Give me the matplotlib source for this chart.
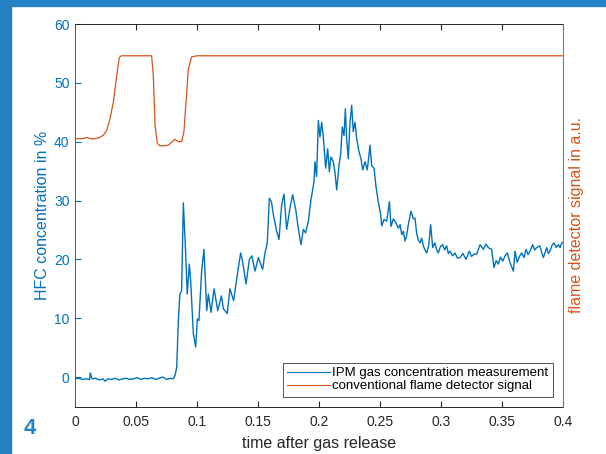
import matplotlib
matplotlib.use("Agg")
import matplotlib.pyplot as plt
from matplotlib.patches import Rectangle
from matplotlib.lines import Line2D

plt.rcParams['font.family'] = ['Liberation Sans', 'DejaVu Sans']

# IPM gas concentration (time in s, value in %)
t_ipm = [0.000, 0.003, 0.006, 0.009, 0.012, 0.0125, 0.014, 0.017, 0.020, 0.023,
         0.0246, 0.027, 0.030, 0.033, 0.036, 0.039, 0.042, 0.045, 0.048, 0.051,
         0.054, 0.057, 0.060, 0.063, 0.066, 0.069, 0.072, 0.075, 0.078, 0.0805,
         0.082, 0.0834, 0.0847, 0.086, 0.0874, 0.0888, 0.0905, 0.092, 0.0937, 0.0948,
         0.097, 0.0989, 0.1003, 0.1016, 0.1038, 0.1057, 0.108, 0.1093, 0.1115, 0.114,
         0.117, 0.120, 0.1216, 0.1248, 0.127, 0.130, 0.1339, 0.1358, 0.1375, 0.1402,
         0.1429, 0.145, 0.1475, 0.1503, 0.1538, 0.1557, 0.1576, 0.1593, 0.161, 0.1626,
         0.1653, 0.1672, 0.1694, 0.1713, 0.1735, 0.1762, 0.1784, 0.181, 0.183, 0.1852,
         0.1872, 0.189, 0.1913, 0.1934, 0.1959, 0.1967, 0.198, 0.1995, 0.2008, 0.2022,
         0.2035, 0.2055, 0.2071, 0.2085, 0.2098, 0.2117, 0.213, 0.2145, 0.2164, 0.2178,
         0.2191, 0.2205, 0.2216, 0.2227, 0.224, 0.2254, 0.2268, 0.2281, 0.2295, 0.2309,
         0.2328, 0.2344, 0.2358, 0.2377, 0.2396, 0.2418, 0.2432, 0.2451, 0.2467, 0.2486,
         0.2506, 0.2514, 0.2533, 0.2555, 0.2577, 0.2590, 0.261, 0.2631, 0.265, 0.2665,
         0.2678, 0.2692, 0.2705, 0.2718, 0.2732, 0.2754, 0.2773, 0.2787, 0.28, 0.2814,
         0.2828, 0.2842, 0.2855, 0.2869, 0.2883, 0.2900, 0.2915, 0.2932, 0.295, 0.2964,
         0.2978, 0.2996, 0.3014, 0.3030, 0.3046, 0.3060, 0.3074, 0.3095, 0.3115, 0.3135,
         0.3156, 0.3180, 0.3205, 0.3232, 0.3250, 0.327, 0.3293, 0.332, 0.3347, 0.3368,
         0.3388, 0.3415, 0.3434, 0.3452, 0.347, 0.3488, 0.3506, 0.3525, 0.3543, 0.3565,
         0.3593, 0.3607, 0.3625, 0.3643, 0.3661, 0.3680, 0.3697, 0.3713, 0.373, 0.3751,
         0.3768, 0.3784, 0.381, 0.3825, 0.3839, 0.3866, 0.3880, 0.3893, 0.3910, 0.3926,
         0.3945, 0.3962, 0.3976, 0.399, 0.400]
c_ipm = [-0.3, -0.2, -0.4, -0.3, -0.4, 0.7, -0.3, -0.2, -0.5, -0.3,
         -0.7, -0.3, -0.4, -0.2, -0.5, -0.3, -0.2, -0.4, -0.3, -0.1,
         -0.4, -0.2, -0.3, -0.1, -0.4, -0.2, 0.0, -0.4, -0.2, -0.3,
         0.3, 1.7, 9.6, 14.1, 14.7, 29.6, 22.0, 14.1, 19.2, 16.4,
         7.4, 5.1, 9.9, 9.6, 18.0, 21.7, 11.3, 14.1, 11.0, 15.0,
         11.3, 13.8, 11.6, 10.8, 15.0, 13.0, 18.6, 21.1, 19.5, 15.8,
         20.0, 20.6, 18.0, 20.3, 18.3, 21.1, 22.8, 30.4, 29.8, 27.6,
         24.8, 23.4, 29.3, 31.1, 25.1, 28.7, 31.0, 28.4, 25.3, 22.5,
         25.1, 24.5, 26.5, 30.1, 33.2, 36.6, 34.1, 43.6, 40.8, 43.3,
         40.9, 35.5, 38.8, 34.9, 37.4, 36.6, 34.9, 31.8, 36.0, 38.0,
         42.5, 41.0, 45.6, 40.3, 37.1, 43.3, 46.2, 41.7, 43.3, 40.5,
         38.3, 37.1, 35.2, 36.6, 35.2, 39.4, 35.9, 35.5, 32.4, 29.8,
         27.6, 25.7, 26.8, 26.5, 29.8, 25.6, 26.9, 26.2, 25.3, 25.9,
         24.2, 24.8, 23.1, 24.0, 25.9, 28.2, 26.9, 27.0, 24.5, 23.3,
         22.8, 23.6, 22.3, 21.6, 21.1, 22.4, 25.9, 22.0, 22.8, 21.7,
         21.1, 22.2, 22.5, 21.6, 22.3, 21.0, 21.4, 20.6, 21.1, 20.2,
         20.3, 21.0, 20.0, 21.4, 20.5, 20.9, 20.9, 22.5, 21.7, 22.6,
         22.0, 21.7, 18.6, 19.8, 19.2, 20.4, 19.7, 20.6, 21.1, 19.5,
         18.0, 21.4, 19.5, 20.5, 21.1, 20.3, 21.7, 20.8, 21.4, 22.5,
         21.6, 22.0, 22.3, 21.2, 20.3, 22.0, 21.0, 21.4, 22.4, 22.8,
         22.0, 22.5, 22.0, 22.8, 22.9]

# conventional flame detector signal (a.u., drawn on the same visual scale)
t_flame = [0.000, 0.005, 0.010, 0.013, 0.016, 0.020, 0.0232, 0.026, 0.0287, 0.0314,
           0.0342, 0.0363, 0.038, 0.050, 0.0628, 0.0642, 0.0656, 0.0675, 0.0697, 0.0730,
           0.0765, 0.079, 0.082, 0.0847, 0.0874, 0.0893, 0.091, 0.0929, 0.0956, 0.100,
           0.200, 0.300, 0.400]
s_flame = [40.5, 40.5, 40.7, 40.5, 40.5, 40.7, 41.1, 41.9, 43.9, 46.7,
           51.2, 54.3, 54.6, 54.6, 54.6, 51.2, 42.8, 39.7, 39.3, 39.3,
           39.4, 39.9, 40.4, 40.0, 40.0, 41.7, 46.7, 52.3, 54.4, 54.6,
           54.6, 54.6, 54.6]

x_ticks = [0, 0.05, 0.1, 0.15, 0.2, 0.25, 0.3, 0.35, 0.4]
x_labels = ['0', '0.05', '0.1', '0.15', '0.2', '0.25', '0.3', '0.35', '0.4']
y_ticks = [0, 10, 20, 30, 40, 50, 60]

blue = '#0072BD'
orange = '#D95319'
dark = '#262626'

fig = plt.figure(figsize=(6.06, 4.54), dpi=100)

# blue frame of the page
fig.patches.append(Rectangle((0, 1 - 6 / 454), 1, 6 / 454, transform=fig.transFigure,
                             color='#2582C5', zorder=0))
fig.patches.append(Rectangle((0, 0), 11 / 606, 1, transform=fig.transFigure,
                             color='#2582C5', zorder=0))
fig.text(30 / 606, 1 - 428 / 454, '4', color='#2582C5', fontsize=16,
         fontweight='bold', ha='center', va='center')

ax = fig.add_axes([75 / 606, 1 - 406.5 / 454, 488 / 606, 382.5 / 454])
ax.plot(t_ipm, c_ipm, color=blue, lw=1.0)
ax.set_xlim(0, 0.4)
ax.set_ylim(-5, 60)
ax.set_xticks(x_ticks)
ax.set_xticklabels(x_labels)
ax.set_yticks(y_ticks)
ax.tick_params(axis='x', direction='in', length=4, colors=dark, labelsize=10,
               top=True, pad=6)
ax.tick_params(axis='y', direction='in', length=4, colors=blue, labelsize=10,
               right=False, pad=4)
ax.spines['left'].set_color(blue)
ax.spines['top'].set_color(dark)
ax.spines['bottom'].set_color(dark)
ax.spines['right'].set_visible(False)
for s in ax.spines.values():
    s.set_linewidth(0.7)
ax.set_xlabel('time after gas release', fontsize=11.5, color=dark)
ax.set_ylabel('HFC concentration in %', fontsize=11.5, color=blue)
ax.xaxis.set_label_coords(0.5, -(436 - 406.5) / 382.5)
ax.yaxis.set_label_coords(-(75 - 50) / 488, 0.5)

ax2 = ax.twinx()
ax2.plot(t_flame, s_flame, color=orange, lw=0.9)
ax2.set_ylim(-5, 60)
ax2.set_yticks([])
for name in ['left', 'top', 'bottom']:
    ax2.spines[name].set_visible(False)
ax2.spines['right'].set_color(orange)
ax2.spines['right'].set_linewidth(0.7)
ax2.set_ylabel('flame detector signal in a.u.', fontsize=11.5, color=orange)
ax2.yaxis.set_label_coords((569 - 75) / 488, 0.5)

handles = [Line2D([], [], color=blue, lw=0.8), Line2D([], [], color=orange, lw=0.8)]
leg = ax2.legend(handles, ['IPM gas concentration measurement',
                           'conventional flame detector signal'],
                 loc='lower right', bbox_to_anchor=(553 / 606, 1 - 397 / 454),
                 bbox_transform=fig.transFigure, fontsize=9.5, frameon=True,
                 fancybox=False, handlelength=3.2, handletextpad=0.2,
                 labelspacing=0.05, borderpad=0.35, borderaxespad=0)
leg.get_frame().set_edgecolor(dark)
leg.get_frame().set_linewidth(0.7)

fig.savefig('out.png', dpi=100)
